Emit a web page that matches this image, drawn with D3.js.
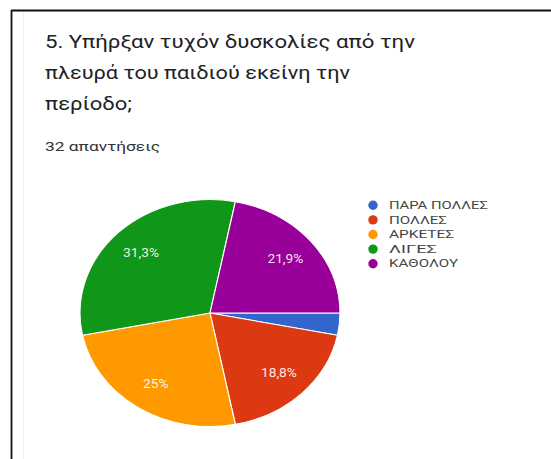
<!DOCTYPE html>
<html>
<head>
<meta charset="utf-8">
<script src="https://cdn.jsdelivr.net/npm/d3@7"></script>
<style>
  html, body { margin: 0; padding: 0; background: #fff; }
  svg { display: block; }
  text { font-family: Roboto, "Open Sans", Arial, sans-serif; }
</style>
</head>
<body>
<svg id="chart" width="551" height="459"></svg>
<script>
// Answers to question 5 (32 responses)
const categories = ["ΠΑΡΑ ΠΟΛΛΕΣ", "ΠΟΛΛΕΣ", "ΑΡΚΕΤΕΣ", "ΛΙΓΕΣ", "ΚΑΘΟΛΟΥ"];
const counts = [1, 6, 8, 10, 7];
const colors = ["#3366cc", "#dc3912", "#ff9900", "#109618", "#990099"];
const titleLines = [
  "5. Υπήρξαν τυχόν δυσκολίες από την",
  "πλευρά του παιδιού εκείνη την",
  "περίοδο;"
];
const subtitle = "32 απαντήσεις";

const svg = d3.select("#chart");
const W = 551, H = 459;

// Card frame
svg.append("rect").attr("x", 0).attr("y", 0).attr("width", W).attr("height", H).attr("fill", "#fff");
svg.append("line").attr("x1", 11.5).attr("x2", 11.5).attr("y1", 10).attr("y2", H)
  .attr("stroke", "#111").attr("stroke-width", 1.8);
svg.append("line").attr("x1", 11).attr("x2", W).attr("y1", 10.5).attr("y2", 10.5)
  .attr("stroke", "#111").attr("stroke-width", 1.8);
svg.append("line").attr("x1", 23.5).attr("x2", 23.5).attr("y1", 12).attr("y2", H)
  .attr("stroke", "#f1f1f1").attr("stroke-width", 1);

// Heading
const titleWidths = [370, 305, 87];
const titleBaselines = [48, 79, 110];
titleLines.forEach((t, i) => {
  svg.append("text")
    .attr("x", 45).attr("y", titleBaselines[i])
    .attr("font-size", 19)
    .attr("fill", "#202124")
    .attr("textLength", titleWidths[i])
    .attr("lengthAdjust", "spacingAndGlyphs")
    .text(t);
});
svg.append("text")
  .attr("x", 45).attr("y", 151)
  .attr("font-size", 13)
  .attr("fill", "#333")
  .attr("textLength", 115)
  .attr("lengthAdjust", "spacingAndGlyphs")
  .text(subtitle);

// Pie (drawn slightly wider than tall)
const cx = 210, cy = 313, r = 113.5, sx = 130 / 113.5;
const total = d3.sum(counts);
const pie = d3.pie().sort(null).value(d => d)
  .startAngle(Math.PI / 2).endAngle(Math.PI / 2 + 2 * Math.PI);
const arcs = pie(counts);
const arc = d3.arc().innerRadius(0).outerRadius(r);
const labelArc = d3.arc().innerRadius(r * 0.75).outerRadius(r * 0.75);

const g = svg.append("g").attr("transform", `translate(${cx},${cy}) scale(${sx},1)`);
g.selectAll("path.slice").data(arcs).join("path")
  .attr("class", "slice")
  .attr("d", arc)
  .attr("fill", (d, i) => colors[i])
  .attr("stroke", "#fff")
  .attr("stroke-width", 1)
  .attr("stroke-linejoin", "round");

const fmt = v => {
  const p = Math.round(v / total * 1000) / 10;
  return (Number.isInteger(p) ? String(p) : p.toFixed(1).replace(".", ",")) + "%";
};
g.selectAll("text.pct").data(arcs.filter(d => d.value / total > 0.05)).join("text")
  .attr("class", "pct")
  .attr("transform", d => {
    const [x, y] = labelArc.centroid(d);
    return `translate(${x},${y}) scale(${1},1)`;
  })
  .attr("text-anchor", "middle")
  .attr("dy", "0.35em")
  .attr("font-size", 12)
  .attr("fill", "#fff")
  .attr("fill-opacity", 0.9)
  .text(d => fmt(d.value));

// Legend
const legendY = d3.scaleBand().domain(categories).range([198, 271]);
const legendWidths = [99, 58, 65, 48, 69];
const lg = svg.append("g");
categories.forEach((c, i) => {
  const y = legendY(c) + legendY.bandwidth() / 2;
  lg.append("circle").attr("cx", 373).attr("cy", y).attr("r", 4.7).attr("fill", colors[i]);
  lg.append("text")
    .attr("x", 389).attr("y", y).attr("dy", "0.36em")
    .attr("font-size", 10.5)
    .attr("fill", "#444")
    .attr("textLength", legendWidths[i])
    .attr("lengthAdjust", "spacingAndGlyphs")
    .text(c);
});
</script>
</body>
</html>
